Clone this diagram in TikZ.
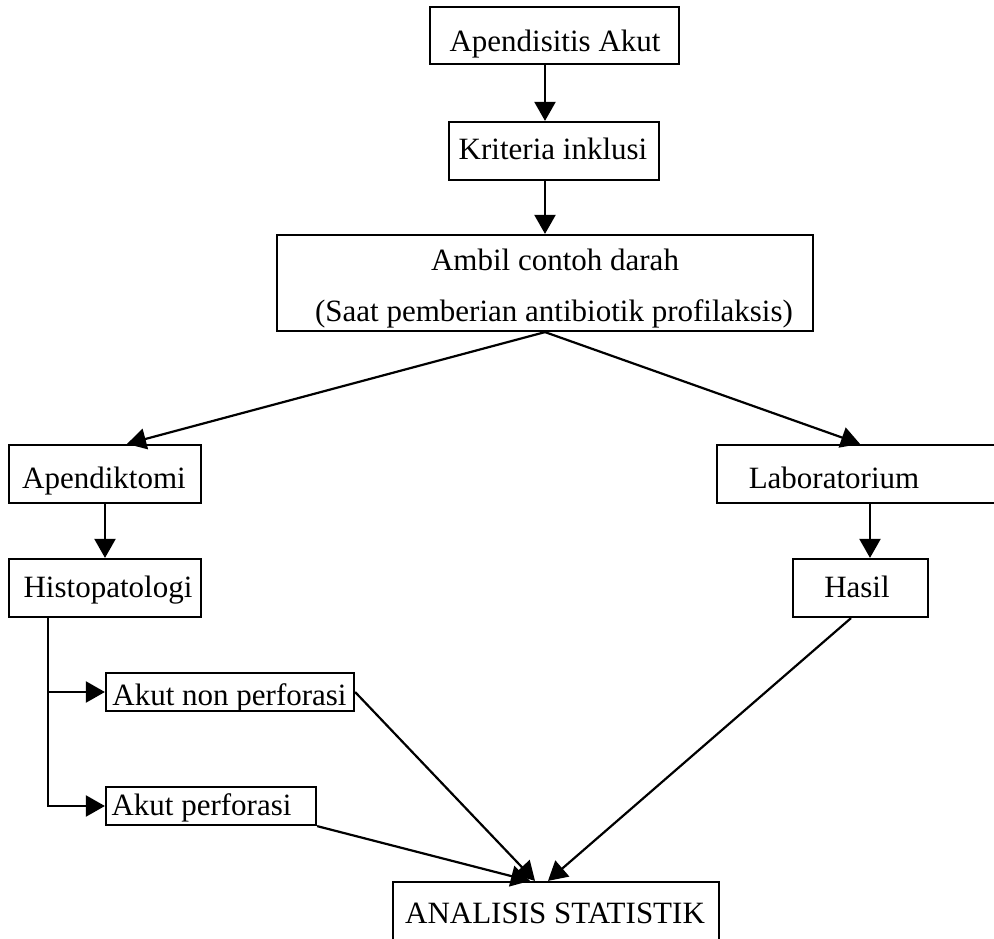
\documentclass[tikz,border=0pt]{standalone}
\usepackage{fontspec}
\setmainfont{Liberation Serif}
\usetikzlibrary{arrows.meta}
\begin{document}
\begin{tikzpicture}[x=1pt,y=-1pt,
  box/.style={draw, line width=2.2pt, inner sep=0pt, rectangle},
  lbl/.style={anchor=base, inner sep=0pt, font=\fontsize{31}{37}\selectfont},
  arr/.style={line width=2.2pt, -{Triangle[length=19pt,width=21pt]}},
  conn/.style={line width=2.2pt}]
\useasboundingbox (0,0) rectangle (994,938);
\fill[white] (0,0) rectangle (994,938);
% boxes
\node[box, minimum width=249, minimum height=57] (apa) at (554.5,35.5) {};
\node[box, minimum width=210, minimum height=58] (kri) at (554,151) {};
\node[box, minimum width=536, minimum height=96] (amb) at (545,283) {};
\node[box, minimum width=192, minimum height=58] (apk) at (105,474) {};
\node[box, minimum width=294, minimum height=58] (lab) at (864,474) {};
\node[box, minimum width=192, minimum height=58] (his) at (105,588) {};
\node[box, minimum width=135, minimum height=58] (has) at (860.5,588) {};
\node[box, minimum width=248, minimum height=38] (anp) at (230,692) {};
\node[box, minimum width=210, minimum height=38] (ap) at (211,806) {};
\node[box, minimum width=326, minimum height=64] (ana) at (556,914) {};
% texts
\node[lbl] (tapa) at (555,51) {Apendisitis Akut};
\node[lbl] (tkri) at (553,159) {Kriteria inklusi};
\node[lbl] (tamb1) at (555,270) {Ambil contoh darah};
\node[lbl] (tamb2) at (554,321) {(Saat pemberian antibiotik profilaksis)};
\node[lbl] (tapk) at (104,488) {Apendiktomi};
\node[lbl] (tlab) at (834,488) {Laboratorium};
\node[lbl] (this) at (108,597) {Histopatologi};
\node[lbl] (thas) at (857,597) {Hasil};
\node[lbl] (tanp) at (229.5,705) {Akut non perforasi};
\node[lbl] (tap) at (201.5,815) {Akut perforasi};
\node[lbl] (tana) at (555,923) {ANALISIS STATISTIK};
% connectors
\draw[arr] (apa.south -| amb.north) -- (kri.north -| amb.north);
\draw[arr] (kri.south -| amb.north) -- (amb.north);
\draw[arr] (amb.south) -- ([xshift=22pt]apk.north);
\draw[arr] (amb.south) -- ([xshift=-4pt]lab.north);
\draw[arr] (apk.south) -- (his.north);
\draw[arr] ([xshift=6pt]lab.south) -- ([xshift=9.5pt]has.north);
\draw[arr] ([xshift=-57pt]his.south) |- (ap.west);
\draw[arr] ([xshift=-57pt]his.south |- anp.west) -- (anp.west);
\draw[arr] (anp.east) -- ([xshift=-21pt]ana.north);
\draw[arr] (ap.south east) -- ([xshift=-26pt]ana.north);
\draw[arr] ([xshift=-9.5pt]has.south) -- ([xshift=-8pt]ana.north);
\end{tikzpicture}
\end{document}
